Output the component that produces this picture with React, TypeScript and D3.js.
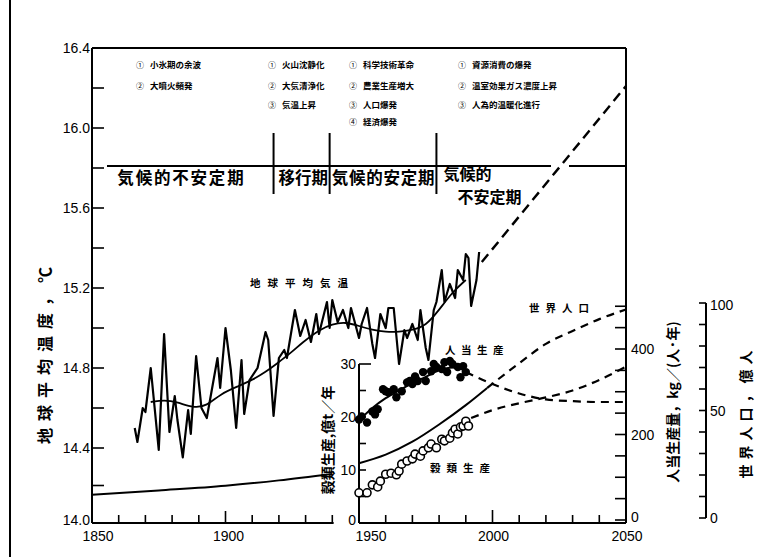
import React from 'react';
import * as d3 from 'd3';

const W = 757;
const H = 557;

// annual global mean temperature, degC
const tempAnnual: [number, number][] = [
  [1866, 14.5], [1867, 14.43], [1869, 14.6], [1870, 14.58], [1872, 14.8], [1875, 14.39],
  [1877, 14.97], [1879, 14.48], [1881, 14.66], [1882, 14.54], [1884, 14.35], [1886, 14.59],
  [1887, 14.47], [1889, 14.86], [1891, 14.6], [1893, 14.55], [1897, 14.85], [1898, 14.7],
  [1900, 15.0], [1902, 14.79], [1904, 14.5], [1906, 14.84], [1907, 14.57], [1909, 14.74],
  [1912, 14.8], [1915, 14.98], [1916, 14.94], [1918, 14.56], [1920, 14.85], [1922, 14.89],
  [1923, 14.85], [1926, 15.09], [1928, 14.96], [1930, 15.04], [1932, 14.93], [1934, 15.07],
  [1935, 14.97], [1938, 15.13], [1939, 15.0], [1940, 15.14], [1942, 15.03], [1944, 15.09],
  [1946, 15.0], [1947, 15.1], [1950, 14.95], [1951, 15.02], [1953, 15.1], [1955, 14.92],
  [1956, 14.85], [1958, 15.07], [1960, 15.0], [1961, 15.1], [1963, 15.1], [1965, 14.82],
  [1967, 14.99], [1968, 14.95], [1970, 15.02], [1972, 14.94], [1973, 15.09], [1975, 14.9],
  [1976, 14.84], [1978, 15.09], [1979, 15.13], [1981, 15.29], [1982, 15.13], [1984, 15.22],
  [1986, 15.15], [1987, 15.29], [1989, 15.24], [1990, 15.37], [1991, 15.35], [1992, 15.11],
  [1994, 15.24], [1995, 15.38],
];

// running mean of temperature
const tempSmooth: [number, number][] = [
  [1872, 14.63], [1877, 14.64], [1882, 14.63], [1888, 14.6], [1893, 14.61], [1898, 14.67],
  [1905, 14.71], [1910, 14.74], [1915, 14.78], [1919, 14.82], [1924, 14.87], [1929, 14.93],
  [1935, 14.99], [1940, 15.02], [1945, 15.03], [1950, 15.01], [1955, 14.99], [1960, 14.98],
  [1965, 14.98], [1970, 14.99], [1975, 15.01], [1980, 15.09], [1985, 15.18], [1990, 15.24],
];

const tempProjection: [number, number][] = [[1996, 15.33], [2050, 16.21]];

// world population, 億人
const popHistory: [number, number][] = [
  [1850, 10.8], [1875, 12.8], [1900, 15.0], [1920, 17.5], [1940, 20.5],
];
const popInset: [number, number][] = [
  [1950, 25.5], [1960, 29.5], [1970, 35.5], [1980, 43.5], [1990, 52.5], [1998, 60.5],
];
const popProjection: [number, number][] = [
  [1998, 60.5], [2010, 72], [2020, 81], [2030, 87], [2040, 92.5], [2050, 97],
];

// grain production, 億t/年
const grainOutput: [number, number][] = [
  [1950, 5.7], [1953, 5.7], [1955, 7.2], [1957, 6.8], [1958, 7.9], [1960, 9.2], [1962, 9.4],
  [1964, 9.1], [1965, 9.8], [1966, 11.1], [1968, 11.7], [1970, 12.1], [1971, 13.0], [1973, 12.6],
  [1974, 13.6], [1976, 14.2], [1977, 14.9], [1979, 14.2], [1981, 15.8], [1982, 15.5], [1984, 16.0],
  [1985, 17.0], [1986, 17.7], [1987, 16.8], [1988, 18.1], [1989, 18.3], [1990, 19.2], [1991, 18.3],
];
const grainProjection: [number, number][] = [
  [1992, 19.8], [2000, 21.3], [2010, 22.6], [2020, 23.7], [2030, 25.0], [2040, 27.0], [2050, 29.5],
];

// grain per capita, kg/(人·年)
const perCapita: [number, number][] = [
  [1950, 235], [1951, 242], [1953, 228], [1955, 254], [1956, 247], [1957, 259], [1959, 306],
  [1960, 301], [1961, 299], [1963, 306], [1964, 287], [1966, 301], [1968, 322], [1969, 325],
  [1970, 318], [1971, 336], [1972, 325], [1974, 346], [1975, 325], [1977, 348], [1978, 365],
  [1979, 358], [1981, 353], [1982, 369], [1983, 346], [1984, 372], [1985, 365], [1987, 358],
  [1988, 334], [1989, 360], [1990, 346],
];
const perCapitaTrend: [number, number][] = [
  [1950, 233], [1955, 262], [1960, 285], [1965, 303], [1970, 320], [1975, 335], [1980, 350],
  [1985, 357], [1990, 350],
];
const perCapitaProjection: [number, number][] = [
  [1990, 346], [2000, 318], [2010, 296], [2020, 282], [2030, 278], [2040, 276], [2050, 276],
];

const tempMajor = [14.0, 14.4, 14.8, 15.2, 15.6, 16.0, 16.4];
const tempMinor = [14.2, 14.6, 15.0, 15.4, 15.8, 16.2];
const mainYearTicks = d3.range(1850, 1941, 10);
const mainYearLabels = [1850, 1900];
const insetYearTicks = d3.range(1950, 2051, 10);
const insetYearLabels = [1950, 2000, 2050];
const grainTicks = d3.range(0, 31, 5);
const grainLabels = [0, 10, 20, 30];
const kgTicks = d3.range(0, 501, 50);
const kgLabels = [0, 200, 400];
const popTicks = d3.range(0, 101, 10);
const popLabels = [0, 50, 100];

const periodBounds = [1918, 1939, 1979];
const periodNames = ['気候的不安定期', '移行期', '気候的安定期', '気候的', '不安定期'];
const periodNotes = [
  ['小氷期の余波', '大噴火頻発'],
  ['火山沈静化', '大気清浄化', '気温上昇'],
  ['科学技術革命', '農業生産増大', '人口爆発', '経済爆発'],
  ['資源消費の爆発', '温室効果ガス濃度上昇', '人為的温暖化進行'],
];
const circled = ['①', '②', '③', '④'];

const NUM = "'Liberation Sans', Arial, sans-serif";
const JP = "'Noto Sans CJK JP', sans-serif";

export default function App() {
  const x = d3.scaleLinear().domain([1850, 2050]).range([92, 626]);
  const yT = d3.scaleLinear().domain([14.0, 14.4, 16.4]).range([523, 448, 48]);
  const yGrain = d3.scaleLinear().domain([0, 30]).range([523, 364]);
  const yKg = d3.scaleLinear().domain([0, 400]).range([520, 349]);
  const yPop = d3.scaleLinear().domain([0, 100]).range([518, 303]);

  const mk = (y: d3.ScaleLinear<number, number>, curve = d3.curveLinear) =>
    d3.line<[number, number]>().x(d => x(d[0])).y(d => y(d[1])).curve(curve);

  const tempLine = mk(yT);
  const smoothLine = mk(yT, d3.curveBasis);
  const popLine = mk(yPop, d3.curveMonotoneX);
  const grainLine = mk(yGrain, d3.curveMonotoneX);
  const kgLine = mk(yKg, d3.curveMonotoneX);

  const bottom = 523;
  const right = 626;
  const top = 48;
  const left = 92;
  const headerY = 166;
  const noteX = [136, 268, 349, 458];
  const noteRows = [65, 86, 105, 122];

  return (
    <svg width={W} height={H} style={{ position: 'absolute', left: 0, top: 0, background: '#fff' }}>
      <rect width={W} height={H} fill="#fff" />
      <line x1={10} x2={10} y1={0} y2={H} stroke="#000" strokeWidth={2} />

      {/* frame */}
      <g stroke="#000" strokeWidth={2} fill="none">
        <line x1={left} x2={right} y1={top} y2={top} />
        <line x1={left} x2={left} y1={top} y2={bottom} />
        <line x1={right} x2={right} y1={top} y2={bottom} />
        <line x1={left} x2={x(1940.5)} y1={bottom} y2={bottom} />
        <line x1={x(1950)} x2={right} y1={bottom} y2={bottom} />
        <line x1={x(1950)} x2={x(1950)} y1={yGrain(30)} y2={bottom} />
        <line x1={706} x2={706} y1={yPop(100)} y2={yPop(0)} />
      </g>

      {/* temperature axis */}
      <g stroke="#000" strokeWidth={1.6}>
        {tempMajor.concat(tempMinor).map(t => (
          <line key={t} x1={left} x2={left + 12} y1={yT(t)} y2={yT(t)} />
        ))}
      </g>
      <g fontFamily={NUM} fontSize={14} textAnchor="end">
        {tempMajor.map(t => (
          <text key={t} x={left - 2} y={yT(t) + (t === 14.0 ? 2 : 5)}>{t.toFixed(1)}</text>
        ))}
      </g>

      {/* year axes */}
      <g stroke="#000" strokeWidth={1.6}>
        {mainYearTicks.map(t => (
          <line key={t} x1={x(t)} x2={x(t)} y1={bottom} y2={bottom - (t === 1900 ? 12 : 8)} />
        ))}
        {insetYearTicks.map(t => (
          <line key={t} x1={x(t)} x2={x(t)} y1={bottom} y2={bottom - (t === 2000 ? 13 : 8)} />
        ))}
      </g>
      <g fontFamily={NUM} fontSize={14} textAnchor="middle">
        {mainYearLabels.map(t => (
          <text key={t} x={x(t) + (t === 1850 ? 6 : 3)} y={541}>{t}</text>
        ))}
        {insetYearLabels.map(t => (
          <text key={t} x={x(t) + (t === 1950 ? 12 : 1)} y={541}>{t}</text>
        ))}
      </g>

      {/* grain axis */}
      <g stroke="#000" strokeWidth={1.6}>
        {grainTicks.map(t => (
          <line key={t} x1={x(1950)} x2={x(1950) + (t === 30 ? 12 : 7)} y1={yGrain(t)} y2={yGrain(t)} />
        ))}
      </g>
      <g fontFamily={NUM} fontSize={14} textAnchor="end">
        {grainLabels.map(t => (
          <text key={t} x={x(1950) - 3} y={yGrain(t) + (t === 0 ? 2 : 5)}>{t}</text>
        ))}
      </g>

      {/* per-capita axis */}
      <g stroke="#000" strokeWidth={1.6}>
        {kgTicks.map(t => (
          <line key={t} x1={right - 11} x2={right} y1={yKg(t)} y2={yKg(t)} />
        ))}
      </g>
      <g fontFamily={NUM} fontSize={14}>
        {kgLabels.map(t => (
          <text key={t} x={right + 5} y={yKg(t) + (t === 0 ? 2 : 5)}>{t}</text>
        ))}
      </g>

      {/* population axis */}
      <g stroke="#000" strokeWidth={1.6}>
        {popTicks.map(t => (
          <line key={t} x1={699} x2={706} y1={yPop(t)} y2={yPop(t)} />
        ))}
      </g>
      <g fontFamily={NUM} fontSize={14}>
        {popLabels.map(t => (
          <text key={t} x={710} y={yPop(t) + (t === 100 ? 7 : 5)}>{t}</text>
        ))}
      </g>

      {/* header: periods */}
      <g stroke="#000" strokeWidth={2}>
        <line x1={107} x2={551} y1={headerY} y2={headerY} />
        <line x1={569} x2={right} y1={headerY} y2={headerY} />
        {periodBounds.map(b => (
          <line key={b} x1={x(b)} x2={x(b)} y1={133} y2={194} />
        ))}
      </g>
      <g fontFamily={JP} fontSize={16.5} fontWeight={700}>
        <text x={x(1859.5)} y={184} style={{ letterSpacing: '1.8px' }}>{periodNames[0]}</text>
        <text x={x(periodBounds[0]) + 5} y={184}>{periodNames[1]}</text>
        <text x={x(periodBounds[1]) + 2} y={184} style={{ letterSpacing: '0.8px' }}>{periodNames[2]}</text>
        <text x={x(periodBounds[2]) + 7} y={180} fontSize={16}>{periodNames[3]}</text>
        <text x={x(periodBounds[2]) + 21} y={203} fontSize={16}>{periodNames[4]}</text>
      </g>
      <g fontFamily={JP} fontSize={8.5} fontWeight={700}>
        {periodNotes.map((col, i) =>
          col.map((s, j) => (
            <g key={`${i}-${j}`}>
              <text x={noteX[i]} y={noteRows[j] + 3} fontWeight={400} fontSize={8}>{circled[j]}</text>
              <text x={noteX[i] + 14} y={noteRows[j] + 3}>{s}</text>
            </g>
          ))
        )}
      </g>

      {/* temperature */}
      <path d={tempLine(tempAnnual) ?? ''} fill="none" stroke="#000" strokeWidth={2.2} strokeLinejoin="round" />
      <path d={smoothLine(tempSmooth) ?? ''} fill="none" stroke="#000" strokeWidth={1.8} />
      <path d={tempLine(tempProjection) ?? ''} fill="none" stroke="#000" strokeWidth={2.4} strokeDasharray="10,6" />

      {/* population */}
      <path d={popLine(popHistory) ?? ''} fill="none" stroke="#000" strokeWidth={2} />
      <path d={popLine(popInset) ?? ''} fill="none" stroke="#000" strokeWidth={2} />
      <path d={popLine(popProjection) ?? ''} fill="none" stroke="#000" strokeWidth={2.2} strokeDasharray="8,6" />

      {/* grain */}
      <path d={grainLine(grainProjection) ?? ''} fill="none" stroke="#000" strokeWidth={2.2} strokeDasharray="8,6" />
      {grainOutput.map(d => (
        <circle key={d[0]} cx={x(d[0])} cy={yGrain(d[1])} r={4} fill="#fff" stroke="#000" strokeWidth={1.6} />
      ))}

      {/* per capita */}
      <path d={kgLine(perCapitaTrend) ?? ''} fill="none" stroke="#000" strokeWidth={2} />
      <path d={kgLine(perCapitaProjection) ?? ''} fill="none" stroke="#000" strokeWidth={2.2} strokeDasharray="8,6" />
      {perCapita.map(d => (
        <circle key={d[0]} cx={x(d[0])} cy={yKg(d[1])} r={4.2} fill="#000" />
      ))}

      {/* series labels */}
      <g fontFamily={JP} fontSize={10.5} fontWeight={700}>
        <text x={250} y={287} style={{ letterSpacing: '7px' }}>地球平均気温</text>
        <text x={445} y={354} style={{ letterSpacing: '5.5px' }}>人当生産</text>
        <text x={529} y={312} style={{ letterSpacing: '6px' }}>世界人口</text>
        <text x={430} y={472} style={{ letterSpacing: '6px' }}>穀類生産</text>
      </g>

      {/* axis titles */}
      <g fontFamily={JP} fontWeight={700} textAnchor="middle">
        <text transform="translate(51,352) rotate(-90)" fontSize={16} style={{ letterSpacing: '7px' }}>地球平均温度，℃</text>
        <text transform="translate(333,440) rotate(-90)" fontSize={14}>穀類生産,億t／年</text>
        <text transform="translate(678,402) rotate(-90)" fontSize={14}>人当生産量，kg／(人·年)</text>
        <text transform="translate(751,412) rotate(-90)" fontSize={14} style={{ letterSpacing: '5px' }}>世界人口，億人</text>
      </g>
    </svg>
  );
}
